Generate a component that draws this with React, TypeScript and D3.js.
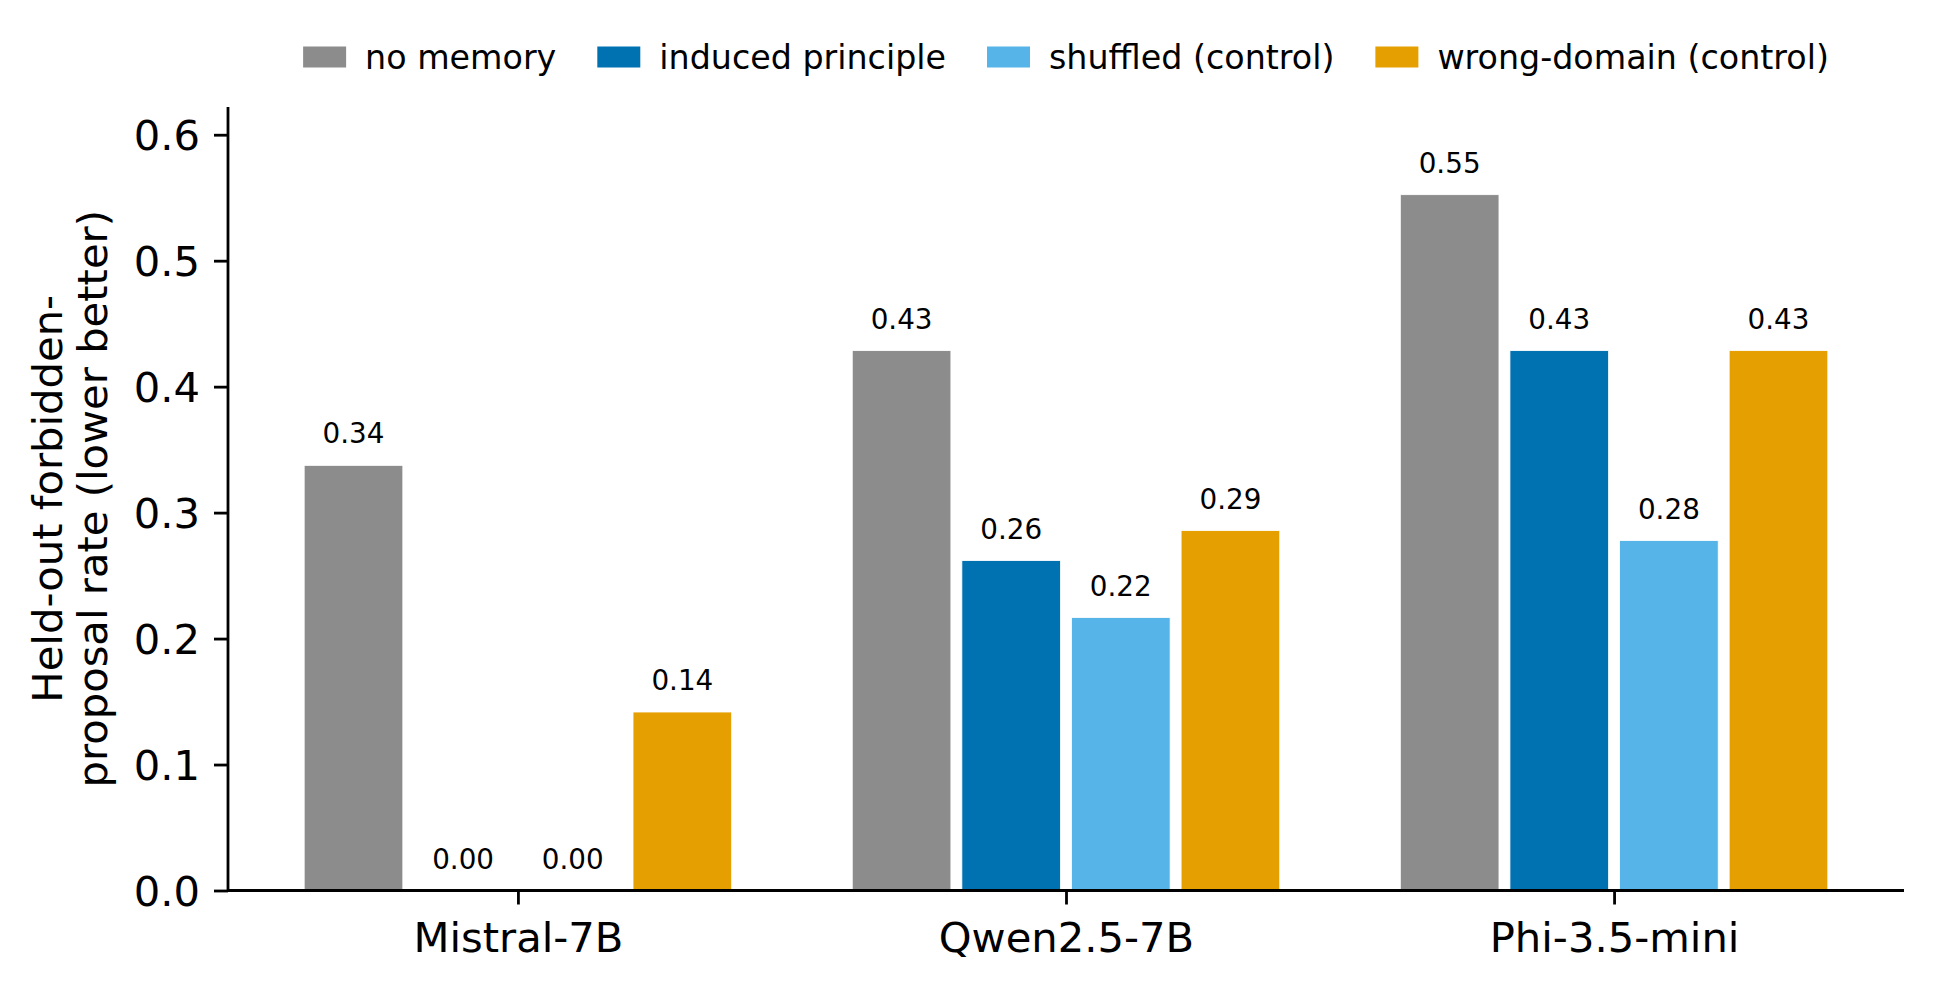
import * as d3 from 'd3';
import { useEffect, useRef } from 'react';

const models = ['Mistral-7B', 'Qwen2.5-7B', 'Phi-3.5-mini'];
const seriesNames = ['no memory', 'induced principle', 'shuffled (control)', 'wrong-domain (control)'];
const seriesColors = ['#8c8c8c', '#0072b2', '#56b4e9', '#e69f00'];

// one array per condition, in model order
const noMemory = [0.3375, 0.4286, 0.5524];
const inducedPrinciple = [0.0, 0.2619, 0.4286];
const shuffledControl = [0.0, 0.2167, 0.2778];
const wrongDomainControl = [0.1417, 0.2857, 0.4286];

const yTicks = [0, 0.1, 0.2, 0.3, 0.4, 0.5, 0.6];

const WIDTH = 1933;
const HEIGHT = 991;
const FONT = '"DejaVu Sans", sans-serif';

export default function App() {
  const ref = useRef(null);

  useEffect(() => {
    const svg = d3.select(ref.current);
    svg.selectAll('*').remove();

    const series = [noMemory, inducedPrinciple, shuffledControl, wrongDomainControl];
    const barStep = 0.2;
    const barWidth = 0.18;

    const plot = { left: 228, right: 1904, top: 107, bottom: 890.5 };

    // matplotlib-ish 5% x margin around the bars
    const x = d3.scaleLinear().domain([-0.529, 2.529]).range([plot.left, plot.right]);
    const y = d3.scaleLinear().domain([0, 0.622]).range([plot.bottom, plot.top]);

    const bars = [];
    series.forEach((vals, si) => {
      vals.forEach((v, mi) => {
        bars.push({ si, mi, v, pos: mi + (si - 1.5) * barStep });
      });
    });

    svg.append('g')
      .selectAll('rect')
      .data(bars)
      .enter()
      .append('rect')
      .attr('x', d => x(d.pos - barWidth / 2))
      .attr('width', d => x(d.pos + barWidth / 2) - x(d.pos - barWidth / 2))
      .attr('y', d => y(d.v))
      .attr('height', d => y(0) - y(d.v))
      .attr('fill', d => seriesColors[d.si])
      .attr('stroke', 'white')
      .attr('stroke-width', 0.8);

    // value labels
    svg.append('g')
      .selectAll('text')
      .data(bars)
      .enter()
      .append('text')
      .attr('x', d => x(d.pos))
      .attr('y', d => y(d.v) - 22)
      .attr('text-anchor', 'middle')
      .style('font-family', FONT)
      .style('font-size', '27.8px')
      .attr('fill', '#000')
      .text(d => d.v.toFixed(2));

    // y axis
    const yAxis = svg.append('g')
      .attr('transform', `translate(${plot.left},0)`)
      .call(d3.axisLeft(y).tickValues(yTicks).tickFormat(d3.format('.1f')).tickSize(14).tickPadding(14));
    yAxis.select('.domain').attr('stroke-width', 2.8).attr('d', `M0,${plot.bottom}V${plot.top}`);
    yAxis.selectAll('.tick line').attr('stroke-width', 2.8);
    yAxis.selectAll('.tick text').style('font-family', FONT).style('font-size', '41.7px').attr('dy', '0.36em');

    // x axis
    const xAxis = svg.append('g')
      .attr('transform', `translate(0,${plot.bottom})`)
      .call(d3.axisBottom(x).tickValues([0, 1, 2]).tickFormat((d, i) => models[i]).tickSize(14).tickPadding(17));
    xAxis.select('.domain').attr('stroke-width', 2.8).attr('d', `M${plot.left},0H${plot.right}`);
    xAxis.selectAll('.tick line').attr('stroke-width', 2.8);
    xAxis.selectAll('.tick text').style('font-family', FONT).style('font-size', '41.7px').attr('dy', '0.74em');

    // y label, two lines
    const midY = (plot.top + plot.bottom) / 2;
    const yLabelLines = ['Held-out forbidden-', 'proposal rate (lower better)'];
    const yLabelBaselines = [62, 107];
    svg.append('g')
      .selectAll('text')
      .data(yLabelLines)
      .enter()
      .append('text')
      .attr('transform', (d, i) => `translate(${yLabelBaselines[i]},${midY}) rotate(-90)`)
      .attr('text-anchor', 'middle')
      .style('font-family', FONT)
      .style('font-size', '41.7px')
      .text(d => d);

    // legend, one row centred over the axes
    const legend = svg.append('g');
    const patchW = 43, patchH = 21, textGap = 19, itemGap = 41, legendY = 57;
    const items = legend.selectAll('g')
      .data(seriesNames)
      .enter()
      .append('g');
    items.append('rect')
      .attr('width', patchW)
      .attr('height', patchH)
      .attr('y', legendY - patchH / 2)
      .attr('fill', (d, i) => seriesColors[i]);
    items.append('text')
      .attr('x', patchW + textGap)
      .attr('y', legendY)
      .attr('dy', '0.36em')
      .style('font-family', FONT)
      .style('font-size', '33.3px')
      .text(d => d);

    let cursor = 0;
    const offsets = [];
    items.each(function () {
      const tw = d3.select(this).select('text').node().getComputedTextLength();
      offsets.push(cursor);
      cursor += patchW + textGap + tw + itemGap;
    });
    const total = cursor - itemGap;
    const start = (plot.left + plot.right) / 2 - total / 2;
    items.attr('transform', (d, i) => `translate(${start + offsets[i]},0)`);

    return () => {
      svg.selectAll('*').remove();
    };
  }, []);

  return (
    <svg
      ref={ref}
      width={WIDTH}
      height={HEIGHT}
      style={{ position: 'absolute', left: 0, top: 0, background: '#fff' }}
    />
  );
}
